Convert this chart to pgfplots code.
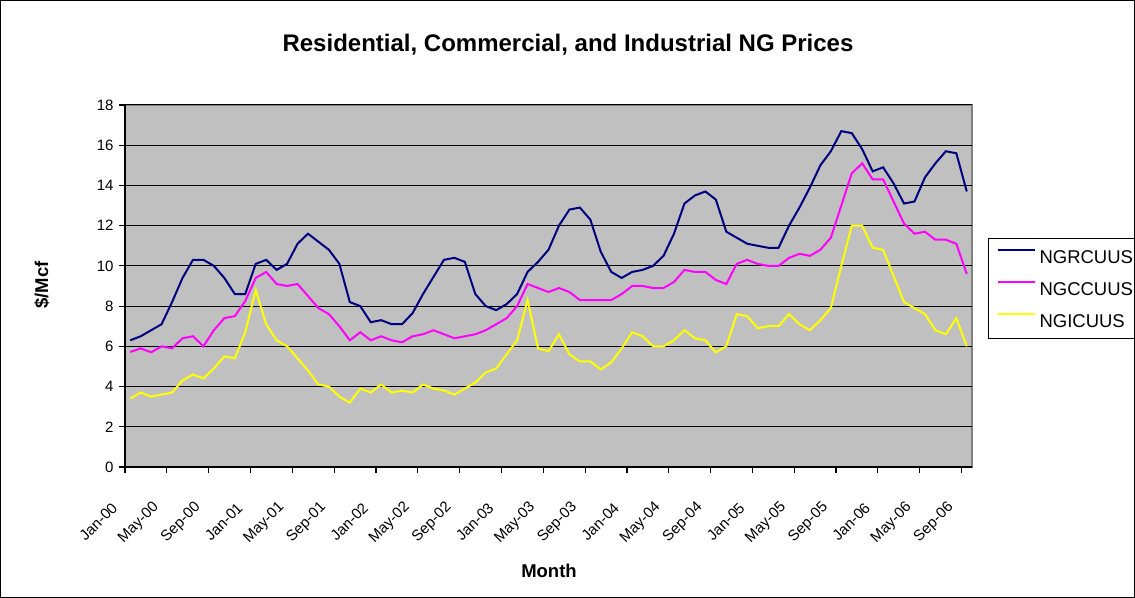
\documentclass[border=0pt]{standalone}
\usepackage{pgfplots}
\usepackage{pgfplotstable}
\pgfplotsset{compat=1.18}
\usepackage{fontspec}
\setmainfont{Liberation Sans}
\definecolor{plotgrey}{HTML}{C0C0C0}
\definecolor{framegrey}{HTML}{808080}
\definecolor{ngnavy}{HTML}{000080}
\definecolor{ngmag}{HTML}{FF00FF}
\definecolor{ngyel}{HTML}{FFFF00}
\pgfplotstableread{
m r c i
0 6.3 5.72 3.4
1 6.5 5.9 3.7
2 6.8 5.7 3.5
3 7.1 6.0 3.6
4 8.2 5.9 3.7
5 9.4 6.4 4.3
6 10.3 6.5 4.6
7 10.3 6.0 4.4
8 10.0 6.8 4.9
9 9.4 7.4 5.5
10 8.6 7.5 5.4
11 8.6 8.25 6.7
12 10.1 9.4 8.8
13 10.3 9.7 7.1
14 9.8 9.1 6.3
15 10.1 9.0 6.0
16 11.1 9.1 5.4
17 11.6 8.5 4.8
18 11.2 7.9 4.1
19 10.8 7.6 4.0
20 10.1 7.0 3.5
21 8.2 6.3 3.2
22 8.0 6.7 3.9
23 7.2 6.3 3.7
24 7.3 6.5 4.1
25 7.1 6.3 3.7
26 7.1 6.2 3.8
27 7.65 6.5 3.7
28 8.6 6.6 4.1
29 9.45 6.8 3.9
30 10.3 6.6 3.8
31 10.4 6.4 3.6
32 10.2 6.5 3.9
33 8.6 6.6 4.2
34 8.0 6.8 4.7
35 7.8 7.1 4.9
36 8.1 7.4 5.6
37 8.6 8.0 6.3
38 9.7 9.1 8.3
39 10.2 8.9 5.9
40 10.8 8.7 5.75
41 12.0 8.9 6.6
42 12.8 8.7 5.6
43 12.9 8.3 5.25
44 12.3 8.3 5.25
45 10.7 8.3 4.85
46 9.7 8.3 5.2
47 9.4 8.6 5.9
48 9.7 9.0 6.7
49 9.8 9.0 6.5
50 10.0 8.9 6.0
51 10.5 8.9 6.0
52 11.6 9.2 6.3
53 13.1 9.8 6.8
54 13.5 9.7 6.4
55 13.7 9.7 6.3
56 13.3 9.3 5.7
57 11.7 9.1 6.0
58 11.4 10.1 7.6
59 11.1 10.3 7.5
60 11.0 10.1 6.9
61 10.9 10.0 7.0
62 10.9 10.0 7.0
63 12.0 10.4 7.6
64 12.9 10.6 7.1
65 13.9 10.5 6.8
66 15.0 10.8 7.3
67 15.7 11.4 7.9
68 16.7 13.0 10.0
69 16.6 14.6 12.0
70 15.8 15.1 12.0
71 14.7 14.3 10.9
72 14.9 14.3 10.8
73 14.1 13.2 9.5
74 13.1 12.1 8.2
75 13.2 11.6 7.9
76 14.4 11.7 7.6
77 15.1 11.3 6.8
78 15.7 11.3 6.6
79 15.6 11.1 7.4
80 13.7 9.6 6.0
}\ngdata
\begin{document}
\begin{tikzpicture}[x=1bp,y=1bp]
\clip (0,0) rectangle (1135,598);
\fill[white] (0,0) rectangle (1135,598);
\coordinate (axorigin) at (125,131);
\begin{axis}[
  at={(axorigin)}, anchor=south west,
  scale only axis, width=847bp, height=362bp,
  xmin=-0.5, xmax=80.5, ymin=0, ymax=18,
  axis background/.style={fill=plotgrey, draw=framegrey, line width=1.5bp},
  axis x line*=bottom, axis y line*=left,
  axis line style={black, line width=1.5bp, -},
  xtick={-0.5,3.5,...,79.5},
  xticklabels={Jan-00,May-00,Sep-00,Jan-01,May-01,Sep-01,Jan-02,May-02,Sep-02,Jan-03,May-03,Sep-03,Jan-04,May-04,Sep-04,Jan-05,May-05,Sep-05,Jan-06,May-06,Sep-06},
  ytick={0,2,...,18},
  tick align=outside, major tick length=6bp,
  tick style={black, line width=1.2bp},
  ymajorgrids, grid style={black, line width=1bp},
  /pgf/number format/assume math mode=true,
  tick label style={font=\fontsize{15bp}{18bp}\selectfont},
  y tick label style={xshift=-2bp},
  x tick label style={xshift=-8bp, yshift=-30bp, rotate=45, anchor=east},
  legend style={at={(1.0189,0.6315)}, anchor=north west, draw=black, line width=1bp, fill=white,
    inner sep=8bp, row sep=12.7bp, column sep=1bp,
    font=\fontsize{18.5bp}{22bp}\selectfont,
    nodes={inner sep=3bp, text height=13.3bp, text depth=0bp}},
  legend cell align=left,
  legend image code/.code={\draw[#1] (0bp,6.6bp) -- (37bp,6.6bp);},
]
\addplot[ngnavy, line width=2bp] table[x=m, y=r] {\ngdata};
\addplot[ngmag, line width=2bp] table[x=m, y=c] {\ngdata};
\addplot[ngyel, line width=2bp] table[x=m, y=i] {\ngdata};
\legend{NGRCUUS,NGCCUUS,NGICUUS}
\end{axis}
\node[font=\fontsize{24bp}{28bp}\selectfont\bfseries] at (568,553) {Residential, Commercial, and Industrial NG Prices};
\node[font=\fontsize{18.5bp}{22bp}\selectfont\bfseries, rotate=90] at (42,313) {\$/Mcf};
\node[font=\fontsize{18.5bp}{22bp}\selectfont\bfseries] at (549,27) {Month};
\draw[black, line width=1bp] (0.5,0.5) rectangle (1134.5,597.5);
\end{tikzpicture}
\end{document}
